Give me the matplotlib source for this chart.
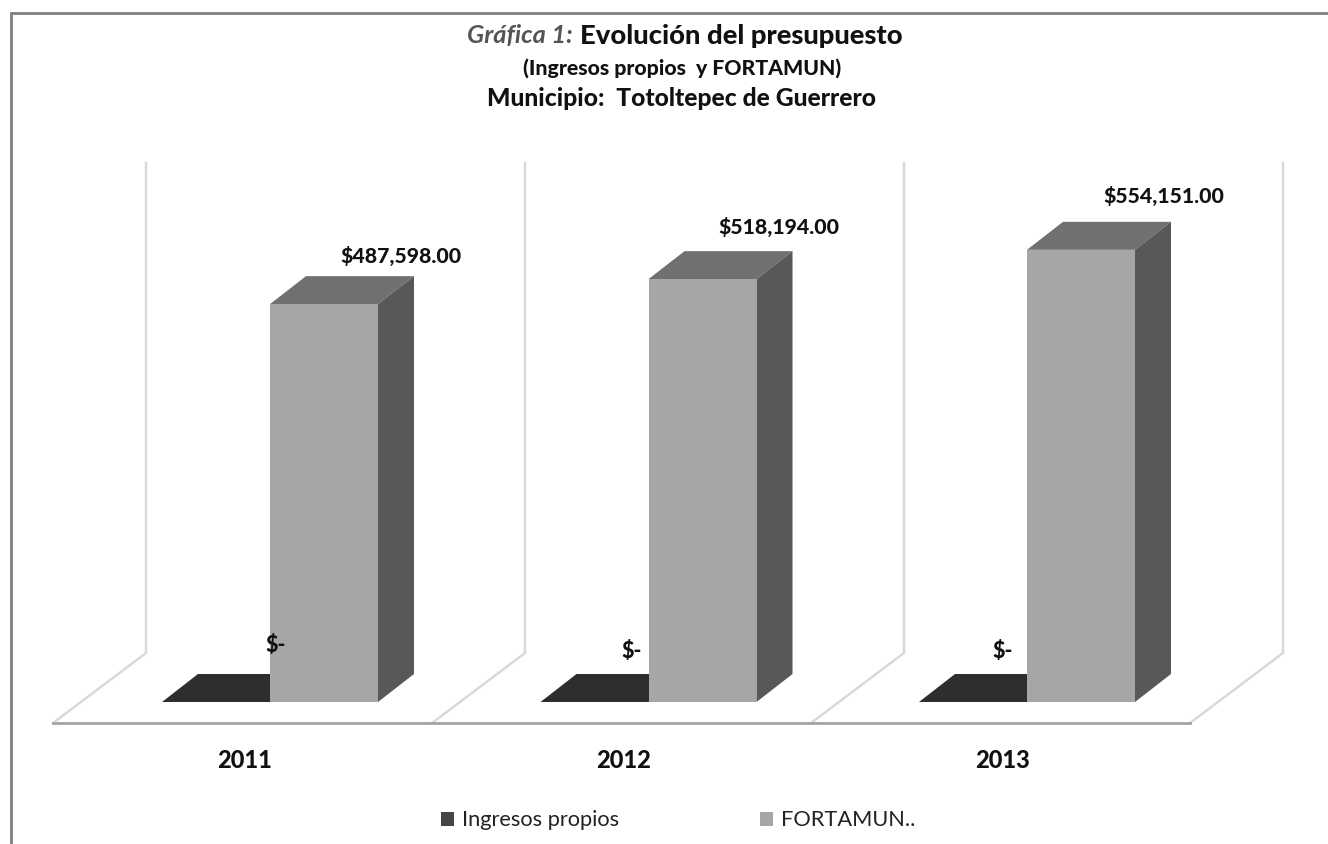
import matplotlib
matplotlib.use("Agg")
import matplotlib.pyplot as plt
from matplotlib.patches import Polygon, Patch

# Data
years = ["2011", "2012", "2013"]
ingresos = [0, 0, 0]
fortamun = [487598, 518194, 554151]
ingresos_labels = ["$-", "$-", "$-"]
fortamun_labels = ["$487,598.00", "$518,194.00", "$554,151.00"]

plt.rcParams["font.family"] = ["Lato", "DejaVu Sans"]

W, H = 1328, 844
fig = plt.figure(figsize=(W / 100, H / 100), dpi=100)
ax = fig.add_axes([0, 0, 1, 1])

# scales: one x unit is one category, y is in pesos
PX_X = 378.5
PX_Y = 0.000816
X0, Y0 = 245, 702
ax.set_xlim(-X0 / PX_X, (W - X0) / PX_X)
ax.set_ylim((Y0 - H) / PX_Y, Y0 / PX_Y)
ax.axis("off")

bar_w = 108 / PX_X
dx, dy = 36 / PX_X, 28 / PX_Y
gap = 25 / PX_X
floor_dx, floor_dy = 93 / PX_X, 70 / PX_Y
wall_top = 539 / PX_Y
floor_left, floor_right = (53 - X0) / PX_X, (1190 - X0) / PX_X
floor_y = -21 / PX_Y

FRONT = ["#2e2e2e", "#a6a6a6"]
TOP = ["#2e2e2e", "#707070"]
SIDE = ["#2e2e2e", "#585858"]

# label nudges in pixels, the original placed each one by hand
value_nudge = [(-13, 20), (-14, 24), (-7, 26)]
zero_nudge = [(31, 57), (8, 50), (1, 50)]


def box(x, h, i):
    ax.add_patch(Polygon([(x, h), (x + bar_w, h), (x + bar_w + dx, h + dy), (x + dx, h + dy)],
                         fc=TOP[i], ec="none", zorder=3))
    ax.add_patch(Polygon([(x + bar_w, 0), (x + bar_w + dx, dy), (x + bar_w + dx, h + dy), (x + bar_w, h)],
                         fc=SIDE[i], ec="none", zorder=3))
    ax.add_patch(Polygon([(x, 0), (x + bar_w, 0), (x + bar_w, h), (x, h)],
                         fc=FRONT[i], ec="none", zorder=4))


# floor and back walls
wall_col = "#d9d9d9"
for k in range(4):
    xb = floor_left + k * (floor_right - floor_left) / 3
    ax.plot([xb, xb + floor_dx, xb + floor_dx], [floor_y, floor_y + floor_dy, wall_top],
            color=wall_col, lw=1.8, zorder=1, solid_joinstyle="miter")
ax.plot([floor_left, floor_right], [floor_y, floor_y], color="#a3a3a3", lw=2, zorder=2)

for i, year in enumerate(years):
    box(i + gap - bar_w, ingresos[i], 0)
    box(i + gap, fortamun[i], 1)
    nx, ny = value_nudge[i]
    ax.text(i + gap + bar_w + dx + nx / PX_X, fortamun[i] + dy + ny / PX_Y, fortamun_labels[i],
            ha="center", va="center", fontsize=15.3, fontweight=900, color="#111111", zorder=5)
    nx, ny = zero_nudge[i]
    ax.text(i + nx / PX_X, ingresos[i] + ny / PX_Y, ingresos_labels[i],
            ha="center", va="center", fontsize=15.5, fontweight=900, color="#111111", zorder=5)
    ax.text(i, -59 / PX_Y, year, ha="center", va="center", fontsize=17,
            fontweight=900, color="#111111")

# titles, in figure pixels
fig.text(573 / W, 1 - 36 / H, "Gráfica 1:", ha="right", va="center", fontsize=18.3,
         style="italic", fontweight="bold", color="#555555")
fig.text(580 / W, 1 - 36 / H, "Evolución del presupuesto", ha="left", va="center",
         fontsize=19.7, fontweight=900, color="#111111")
fig.text(682 / W, 1 - 68 / H, "(Ingresos propios  y FORTAMUN)", ha="center", va="center",
         fontsize=15.3, fontweight=900, color="#111111")
fig.text(682 / W, 1 - 98 / H, "Municipio:  Totoltepec de Guerrero", ha="center", va="center",
         fontsize=17.7, fontweight=900, color="#111111")

# outer frame: only left and top survive the crop
ax.plot([(10.5 - X0) / PX_X, (10.5 - X0) / PX_X, (W - X0) / PX_X],
        [(Y0 - H) / PX_Y, (Y0 - 13) / PX_Y, (Y0 - 13) / PX_Y],
        color="#808080", lw=2, zorder=6, solid_joinstyle="miter")

handles = [Patch(fc="#454545", ec="none", label="Ingresos propios"),
           Patch(fc="#a6a6a6", ec="none", label="FORTAMUN..")]
ax.legend(handles=handles, ncol=2, loc="center left", frameon=False, fontsize=15.7,
          bbox_to_anchor=(421 / W, 1 - 820.5 / H), handlelength=0.6, handleheight=0.6,
          handletextpad=0.38, columnspacing=6.45, labelcolor="#222222")

fig.savefig("out.png", dpi=100)
